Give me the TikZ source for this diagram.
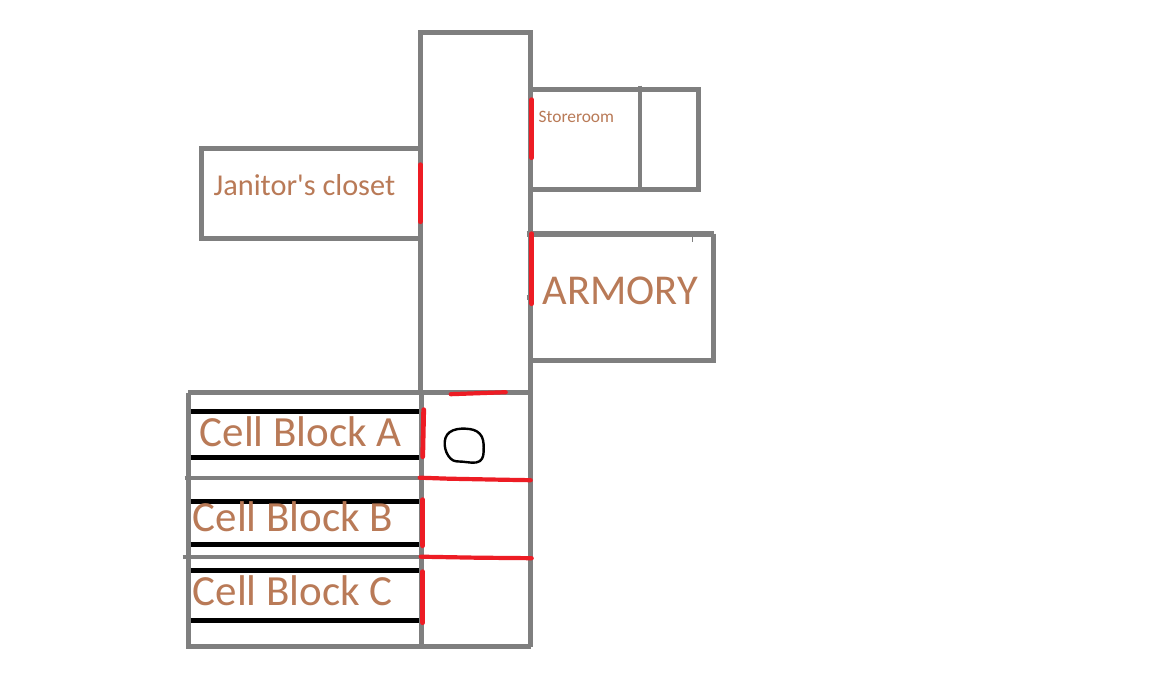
\documentclass[tikz,border=0pt]{standalone}
\usepackage{fontspec}
\newfontfamily\labelfont{Carlito}
\definecolor{wallgray}{RGB}{127,127,127}
\definecolor{doorred}{RGB}{237,28,36}
\definecolor{labelbrown}{RGB}{185,122,87}
\tikzset{
  wall/.style={draw=wallgray,line width=5pt,line cap=butt,line join=miter},
  thinwall/.style={draw=wallgray,line width=4.4pt},
  door/.style={draw=doorred,line width=4.8pt,line cap=round,line join=round},
  doorh/.style={draw=doorred,line width=4.2pt,line cap=round},
  bunk/.style={draw=black,line width=5pt},
  roomlabel/.style={text=labelbrown,anchor=base west,inner sep=0pt,outer sep=0pt}
}
\begin{document}
\begin{tikzpicture}[x=1pt,y=-1pt]
\useasboundingbox (0,0) rectangle (1152,676);
\fill[white] (0,0) rectangle (1152,676);
\begin{scope}[shift={(0.7,0.7)}]
% corridor
\draw[wall] (419.5,392) -- (419.5,32) -- (530,32) -- (530,392);
\draw[wall] (421,392) -- (421,646) (530,392) -- (530,646);
% janitor
\draw[wall] (419,147.5) -- (200.5,147.5) -- (200.5,237.5) -- (419,237.5);
\draw[thinwall] (420,142) -- (420,250);
% storeroom
\draw[wall] (530,89) -- (698,89) -- (698,189) -- (530,189);
\draw[thinwall] (639.5,85) -- (639.5,189);
% armory
\draw[draw=wallgray,line width=6pt] (526,233) -- (713,233);
\draw[wall] (713,233) -- (713,360) -- (530,360);
\draw[thinwall] (526,297) -- (530,297);
\draw[draw=wallgray,line width=1.4pt] (692,235) -- (692,241);
% cell blocks
\draw[wall] (187.5,392) -- (187.5,646) -- (530,646);
\draw[wall] (187.5,392) -- (530,392);
\draw[thinwall] (184,477) -- (421,477);
\draw[thinwall] (182,556) -- (421,556);
% bunks
\foreach \yy in {411,457,501,544,570,620}
  \draw[bunk] (190,\yy) -- (418,\yy);
% doors
\draw[door] (531,99) -- (531,157);
\draw[door] (419.5,164) -- (419.5,221);
\draw[door] (531,233) -- (531,303);
\draw[door] (423,409) -- (422,456);
\draw[door] (422,499) -- (422,545);
\draw[door] (422,571) -- (422,622);
\draw[doorh] (450,393.5) -- (478,392.5) -- (505,391.5);
\draw[doorh] (419,477) -- (448,478) -- (500,479) -- (530,479.5);
\draw[doorh] (420,556) -- (476,557) -- (531,557.5);
% marker
\draw[black,line width=2.4pt,line join=round] plot[smooth cycle,tension=0.7] coordinates {(444,444) (449,431.5) (465,428) (479,433) (483,447) (479,460.5) (462,461) (450,458)};
% labels
\node[roomlabel,font=\labelfont\fontsize{30.3}{30.3}\selectfont] (janitor) at (213,195) {Janitor's closet};
\node[roomlabel,font=\labelfont\fontsize{17.4}{17.4}\selectfont] (store) at (538,122) {Storeroom};
\node[roomlabel,font=\labelfont\fontsize{42.5}{42.5}\selectfont] (armory) at (542,304) {ARMORY};
\node[roomlabel,font=\labelfont\fontsize{43}{43}\selectfont] (cella) at (199,446) {Cell Block A};
\node[roomlabel,font=\labelfont\fontsize{43}{43}\selectfont] (cellb) at (192,531) {Cell Block B};
\node[roomlabel,font=\labelfont\fontsize{43}{43}\selectfont] (cellc) at (192,605) {Cell Block C};
\end{scope}
\end{tikzpicture}
\end{document}
